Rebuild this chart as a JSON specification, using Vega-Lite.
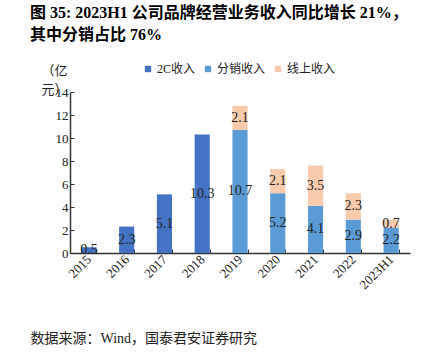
{
  "$schema": "https://vega.github.io/schema/vega-lite/v6.json",
  "autosize": "none",
  "width": 340,
  "height": 161,
  "padding": {"left": 70, "top": 92, "right": 29, "bottom": 103},
  "background": "white",
  "config": {
    "view": {"stroke": null},
    "font": "Liberation Serif, Noto Sans CJK SC",
    "text": {"font": "Liberation Serif, Noto Sans CJK SC"}
  },
  "title": {
    "text": ["图 35: 2023H1 公司品牌经营业务收入同比增长 21%，", "其中分销占比 76%"],
    "anchor": "start",
    "frame": "group",
    "dx": -40,
    "offset": 20,
    "fontSize": 16,
    "fontWeight": "bold",
    "font": "Liberation Serif, Noto Sans CJK SC",
    "color": "#000000",
    "lineHeight": 22
  },
  "data": {
    "values": [
      {"year": "2015", "series": "2C收入", "order": 0, "value": 0.5},
      {"year": "2016", "series": "2C收入", "order": 0, "value": 2.3},
      {"year": "2017", "series": "2C收入", "order": 0, "value": 5.1},
      {"year": "2018", "series": "2C收入", "order": 0, "value": 10.3},
      {"year": "2019", "series": "分销收入", "order": 1, "value": 10.7},
      {"year": "2019", "series": "线上收入", "order": 2, "value": 2.1},
      {"year": "2020", "series": "分销收入", "order": 1, "value": 5.2},
      {"year": "2020", "series": "线上收入", "order": 2, "value": 2.1},
      {"year": "2021", "series": "分销收入", "order": 1, "value": 4.1},
      {"year": "2021", "series": "线上收入", "order": 2, "value": 3.5},
      {"year": "2022", "series": "分销收入", "order": 1, "value": 2.9},
      {"year": "2022", "series": "线上收入", "order": 2, "value": 2.3},
      {"year": "2023H1", "series": "分销收入", "order": 1, "value": 2.2},
      {"year": "2023H1", "series": "线上收入", "order": 2, "value": 0.7}
    ]
  },
  "encoding": {
    "x": {
      "field": "year",
      "type": "nominal",
      "sort": null,
      "scale": {"paddingInner": 0.6, "paddingOuter": 0.3},
      "axis": {
        "title": "数据来源：Wind，国泰君安证券研究",
        "titleX": -40,
        "titleY": 85,
        "titleAlign": "left",
        "titleAnchor": "start",
        "titleBaseline": "middle",
        "titleFontSize": 14,
        "titleFontWeight": "normal",
        "titleColor": "#222222",
        "titleFont": "Liberation Serif, Noto Sans CJK SC",
        "labelAngle": -45,
        "labelAlign": "right",
        "labelBaseline": "middle",
        "labelFontSize": 13,
        "labelColor": "#222222",
        "labelPadding": 8,
        "tickBand": "extent",
        "tickSize": -4,
        "tickColor": "#333333",
        "domainColor": "#333333",
        "domainWidth": 1.5
      }
    },
    "y": {
      "field": "value",
      "type": "quantitative",
      "stack": "zero",
      "scale": {"domain": [0, 14]},
      "axis": {
        "values": [0, 2, 4, 6, 8, 10, 12, 14],
        "grid": false,
        "title": ["（亿", "元）"],
        "titleAngle": 0,
        "titleX": -16,
        "titleY": -28,
        "titleAlign": "center",
        "titleBaseline": "top",
        "titleFontSize": 13,
        "titleFontWeight": "normal",
        "titleColor": "#222222",
        "titleLineHeight": 19,
        "labelFontSize": 13,
        "labelColor": "#222222",
        "labelPadding": 6,
        "tickSize": -4,
        "tickColor": "#333333",
        "domainColor": "#333333",
        "domainWidth": 1.5
      }
    },
    "order": {"field": "order", "type": "quantitative"}
  },
  "layer": [
    {
      "mark": {"type": "bar"},
      "encoding": {
        "color": {
          "field": "series",
          "type": "nominal",
          "scale": {"domain": ["2C收入", "分销收入", "线上收入"], "range": ["#4472C4", "#5B9BD5", "#F8CBAD"]},
          "legend": {
            "title": null,
            "orient": "none",
            "direction": "horizontal",
            "legendX": 72,
            "legendY": -29,
            "symbolType": "square",
            "symbolSize": 40,
            "symbolStrokeWidth": 0,
            "labelFontSize": 12,
            "labelColor": "#222222",
            "labelOffset": 3,
            "columnPadding": 6
          }
        }
      }
    },
    {
      "mark": {"type": "text", "fontSize": 14, "color": "#222222", "baseline": "middle"},
      "encoding": {
        "y": {"field": "value", "type": "quantitative", "stack": "zero", "bandPosition": 0.5},
        "text": {"field": "value", "type": "quantitative", "format": ".1f"}
      }
    }
  ]
}
